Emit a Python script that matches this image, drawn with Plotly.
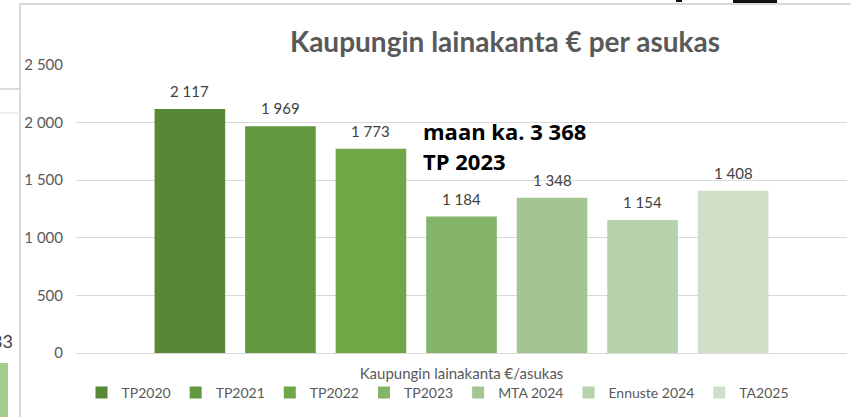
import plotly.graph_objects as go

category = ["Kaupungin lainakanta €/asukas"]
series_names = ["TP2020", "TP2021", "TP2022", "TP2023", "MTA 2024", "Ennuste 2024", "TA2025"]
values = [2117, 1969, 1773, 1184, 1348, 1154, 1408]
colors = ["#578836", "#62983F", "#6EA746", "#84B46A", "#A4C592", "#B7D1AC", "#CFDFC8"]
y_ticks = [0, 500, 1000, 1500, 2000, 2500]

W, H = 851, 417
L, R, T, B = 76, 4, 65, 64
pw, ph = W - L - R, H - T - B
BARGAP = 0.178

def px(x):
    return (x - L) / pw

def py(y):
    return (H - B - y) / ph

FONT = "Lato"
fig = go.Figure()
for name, v, c in zip(series_names, values, colors):
    fig.add_trace(go.Bar(
        x=category, y=[v], name=name, marker_color=c, marker_line_width=0,
        hoverinfo="skip",
    ))

# data labels, placed on the category axis at each bar's slot in the group
n = len(values)
slot = (1 - BARGAP) / n
labels = [
    dict(text=f"{v:,}".replace(",", " "), xref="x", yref="y",
         x=-(1 - BARGAP) / 2 + (i + 0.5) * slot, y=v, xanchor="center", yanchor="middle",
         yshift=18, showarrow=False, font=dict(size=15, color="#404040", family=FONT))
    for i, v in enumerate(values)
]

shapes = [
    dict(type="line", xref="paper", yref="paper", x0=px(20), x1=px(20), y0=py(4), y1=py(417),
         line=dict(color="#d9d9d9", width=2)),
    dict(type="line", xref="paper", yref="paper", x0=px(20), x1=px(851), y0=py(4), y1=py(4),
         line=dict(color="#d9d9d9", width=2)),
    dict(type="line", xref="paper", yref="paper", x0=px(0), x1=px(20), y0=py(89), y1=py(89),
         line=dict(color="#d0d0d0", width=1.5)),
    dict(type="line", xref="paper", yref="paper", x0=px(0), x1=px(20), y0=py(113), y1=py(113),
         line=dict(color="#ececec", width=1.5)),
    dict(type="rect", xref="paper", yref="paper", x0=px(0), x1=px(8), y0=py(417), y1=py(363),
         fillcolor="#A3CB8A", line_width=0),
    dict(type="rect", xref="paper", yref="paper", x0=px(733), x1=px(777), y0=py(3), y1=py(0),
         fillcolor="#111111", line_width=0),
    dict(type="rect", xref="paper", yref="paper", x0=px(676), x1=px(682), y0=py(2), y1=py(0),
         fillcolor="#111111", line_width=0),
]

annotations = labels + [
    dict(text="<b>Kaupungin lainakanta € per asukas</b>", xref="paper", yref="paper",
         x=px(505), y=py(41), xanchor="center", yanchor="middle", showarrow=False,
         font=dict(size=28, color="#595959", family=FONT)),
    dict(text="<b>maan ka. 3 368</b>", xref="paper", yref="paper",
         x=px(421), y=py(131), xanchor="left", yanchor="middle", align="left", showarrow=False,
         font=dict(size=22, color="#000000", family="Open Sans")),
    dict(text="<b>TP 2023</b>", xref="paper", yref="paper",
         x=px(421), y=py(161), xanchor="left", yanchor="middle", align="left", showarrow=False,
         font=dict(size=22, color="#000000", family="Open Sans")),
    dict(text="33", xref="paper", yref="paper", x=px(15), y=py(341), xanchor="right",
         yanchor="middle", showarrow=False, font=dict(size=18, color="#404040", family=FONT)),
]

fig.update_layout(
    width=W, height=H, margin=dict(l=L, r=R, t=T, b=B),
    paper_bgcolor="white", plot_bgcolor="white",
    separators=", ",
    barmode="group", bargap=BARGAP, bargroupgap=0.22,
    showlegend=True,
    legend=dict(orientation="h", x=px(438), xanchor="center", y=py(393), yanchor="middle",
                font=dict(size=14, color="#595959", family=FONT), itemwidth=30,
                bgcolor="rgba(0,0,0,0)"),
    shapes=shapes, annotations=annotations,
    font=dict(family=FONT, color="#595959"),
)
fig.update_yaxes(range=[0, 2500], tickvals=y_ticks, tickformat=",", showgrid=True,
                 gridcolor="#d9d9d9", gridwidth=1, zeroline=True, zerolinecolor="#d9d9d9",
                 zerolinewidth=1, showline=False, ticks="", ticklabelstandoff=12,
                 tickfont=dict(size=15, color="#595959", family=FONT))
fig.update_xaxes(showline=False, ticks="", showgrid=False, ticklabelstandoff=10,
                 tickfont=dict(size=15, color="#595959", family=FONT))

fig.write_html(
    "out.html",
    config={"displayModeBar": False},
    post_script="document.body.style.margin='0';document.body.style.overflow='hidden';",
)
